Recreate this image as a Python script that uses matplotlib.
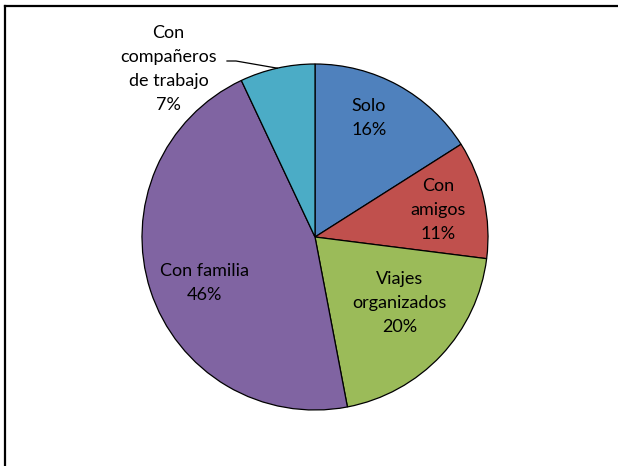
import numpy as np
import matplotlib
matplotlib.use("Agg")
import matplotlib.pyplot as plt
from matplotlib.lines import Line2D

categories = ["Solo", "Con\namigos", "Viajes\norganizados", "Con familia", "Con\ncompañeros\nde trabajo"]
values = [16, 11, 20, 46, 7]
colors = ["#4F81BD", "#C0504D", "#9BBB59", "#8064A2", "#4BACC6"]

# label placement (radius fraction, angle in degrees) - styling only
label_pos = [(0.756, 65.6), (0.73, 12.3), (0.62, -38.0), (0.69, -157.3), None]
outside_xy = (-0.846, 0.971)

plt.rcParams['font.family'] = ['Lato', 'DejaVu Sans']

W, H = 618, 466
fig = plt.figure(figsize=(W / 100, H / 100), dpi=100)
fig.patch.set_facecolor("white")

cx, cy, R = 315, 237, 173
ax = fig.add_axes([(cx - R) / W, (H - cy - R) / H, 2 * R / W, 2 * R / H])
wedges, _ = ax.pie(values, colors=colors, startangle=90, counterclock=False,
                   radius=1.0, wedgeprops=dict(edgecolor="black", linewidth=0.9))
ax.set_xlim(-1, 1)
ax.set_ylim(-1, 1)
ax.set_aspect("auto")
ax.axis("off")

total = sum(values)
fs = 13
ls = 1.62
for i, (cat, v) in enumerate(zip(categories, values)):
    txt = f"{cat}\n{round(100 * v / total)}%"
    if label_pos[i] is not None:
        r, a = label_pos[i]
        x, y = r * np.cos(np.radians(a)), r * np.sin(np.radians(a))
        ax.text(x, y, txt, ha="center", va="center", fontsize=fs,
                linespacing=ls, color="black")
    else:
        w = wedges[i]
        mid = np.radians((w.theta1 + w.theta2) / 2)
        ex, ey = np.cos(mid), np.sin(mid)
        ax.text(outside_xy[0], outside_xy[1], txt, ha="center", va="center",
                fontsize=fs, linespacing=ls, color="black", clip_on=False)
        x0 = (227 - cx) / R
        x1 = (236 - cx) / R
        y0 = (cy - 61) / R
        ax.add_line(Line2D([x0, x1, ex], [y0, y0, ey], color="black",
                           linewidth=0.9, clip_on=False))

# frame (top and left edges visible)
fig.add_artist(Line2D([5 / W, 1.0], [1 - 6 / H, 1 - 6 / H], color="black",
                      linewidth=1.6, transform=fig.transFigure))
fig.add_artist(Line2D([5 / W, 5 / W], [0, 1 - 6 / H], color="black",
                      linewidth=1.6, transform=fig.transFigure))

fig.savefig("out.png", dpi=100)
